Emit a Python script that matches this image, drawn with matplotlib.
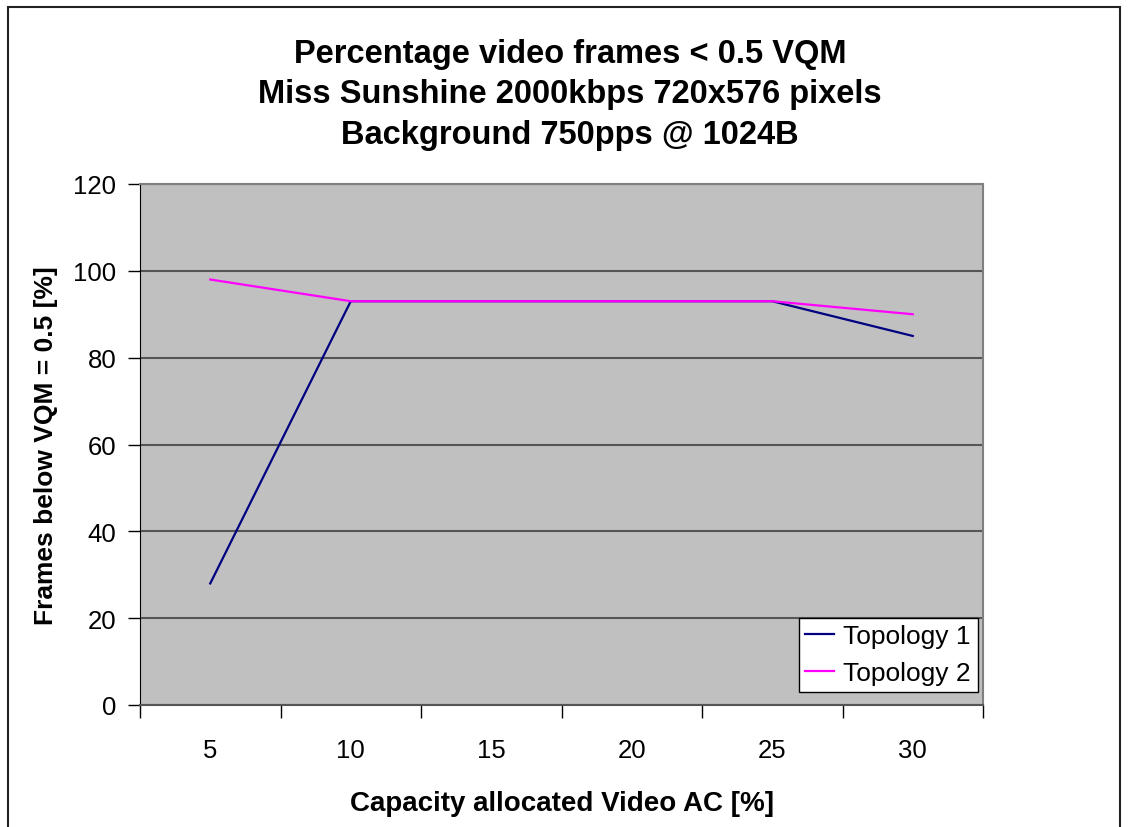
import matplotlib
matplotlib.use("Agg")
import matplotlib.pyplot as plt
from matplotlib.patches import Rectangle

categories = ["5", "10", "15", "20", "25", "30"]
topology1 = [28, 93, 93, 93, 93, 85]
topology2 = [98, 93, 93, 93, 93, 90]
yticks = [0, 20, 40, 60, 80, 100, 120]

plt.rcParams['font.family'] = ['Liberation Sans', 'DejaVu Sans']

fig = plt.figure(figsize=(11.29, 8.28), dpi=100)
fig.patches.append(Rectangle((8/1129, -0.1), (1120-8)/1129, 1.1 - 8/828, transform=fig.transFigure,
                             fill=False, edgecolor='#222222', linewidth=1.5))

ax = fig.add_axes([140/1129, (828-706)/828, (983-140)/1129, (706-185)/828])
ax.set_facecolor('#C0C0C0')
x = list(range(len(categories)))
ax.plot(x, topology1, color='#000080', lw=1.6, label='Topology 1')
ax.plot(x, topology2, color='#FF00FF', lw=1.6, label='Topology 2')

ax.set_xlim(-0.5, len(categories) - 0.5)
ax.set_ylim(0, 120)
ax.set_yticks(yticks)
ax.set_yticklabels([str(v) for v in yticks], fontsize=18.5)
ax.set_xticks(x)
ax.set_xticklabels(categories, fontsize=18.5)
ax.set_xticks([i - 0.5 for i in range(len(categories) + 1)], minor=True)
ax.tick_params(axis='x', which='major', length=0, pad=24)
ax.tick_params(axis='x', which='minor', length=9, width=1, direction='out', color='black')
ax.tick_params(axis='y', length=9, width=1, direction='out', color='black', pad=8)
ax.grid(axis='y', color='#555555', lw=1.5)
ax.set_axisbelow(True)
for s in ['top', 'right']:
    ax.spines[s].set_color('#808080')
    ax.spines[s].set_linewidth(1.5)
ax.spines['left'].set_color('black')
ax.spines['bottom'].set_color('#555555')
ax.spines['bottom'].set_linewidth(1.5)

ax.set_xlabel('Capacity allocated Video AC [%]', fontsize=20, fontweight='bold', labelpad=20)
ax.set_ylabel('Frames below VQM = 0.5 [%]', fontsize=19, fontweight='bold', labelpad=11)

fig.text(570/1129, 1 - 95/828,
         'Percentage video frames < 0.5 VQM\nMiss Sunshine 2000kbps 720x576 pixels\nBackground 750pps @ 1024B',
         ha='center', va='center', fontsize=23.5, fontweight='bold', linespacing=1.41)

leg = ax.legend(loc='lower right', bbox_to_anchor=(1.0, 0.015), fontsize=19, frameon=True,
                fancybox=False, edgecolor='black', facecolor='white', framealpha=1,
                handlelength=1.1, handletextpad=0.35, borderpad=0.25, labelspacing=0.5,
                borderaxespad=0.2)
leg.get_frame().set_linewidth(1)

fig.savefig('out.png', dpi=100)
